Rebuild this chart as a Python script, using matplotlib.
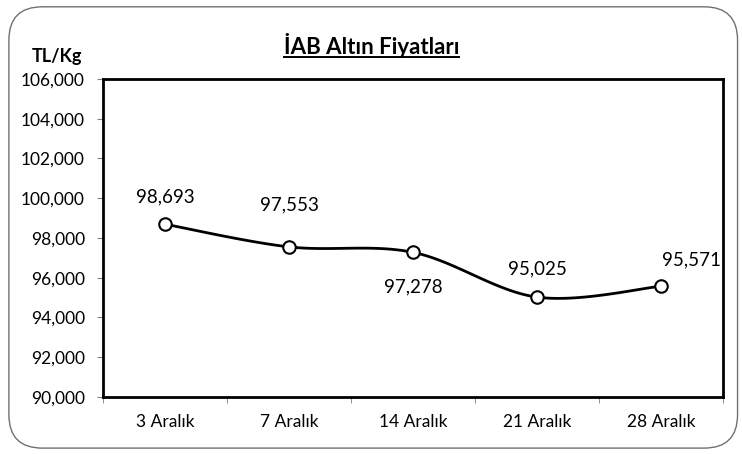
import matplotlib.pyplot as plt
from matplotlib.patches import FancyBboxPatch
import numpy as np

categories = ["3 Aralık", "7 Aralık", "14 Aralık", "21 Aralık", "28 Aralık"]
prices = [98693, 97553, 97278, 95025, 95571]

plt.rcParams["font.family"] = ["Lato", "DejaVu Sans"]


def smooth(xs, ys, n=30):
    # Catmull-Rom curve through the points, like Excel's smoothed line
    xs = np.asarray(xs, float)
    ys = np.asarray(ys, float)
    px = np.concatenate([[xs[0]], xs, [xs[-1]]])
    py = np.concatenate([[ys[0]], ys, [ys[-1]]])
    outx, outy = [], []
    t = np.linspace(0, 1, n)
    for i in range(1, len(px) - 2):
        p0, p1, p2, p3 = [np.array([px[j], py[j]]) for j in (i - 1, i, i + 1, i + 2)]
        c1 = p1 + (p2 - p0) / 6
        c2 = p2 - (p3 - p1) / 6
        pts = ((1 - t)[:, None] ** 3 * p1 + 3 * ((1 - t) ** 2 * t)[:, None] * c1
               + 3 * ((1 - t) * t ** 2)[:, None] * c2 + (t ** 3)[:, None] * p2)
        outx.extend(pts[:, 0])
        outy.extend(pts[:, 1])
    return outx, outy


fig = plt.figure(figsize=(7.42, 4.54), dpi=100)
frame = FancyBboxPatch((0.012, 0.013), 0.982, 0.972, boxstyle="round,pad=0,rounding_size=0.045",
                       transform=fig.transFigure, facecolor="white", edgecolor="#707070",
                       linewidth=1.0, mutation_aspect=742 / 454, zorder=-5)
fig.patches.append(frame)

ax = fig.add_axes([0.1388, 0.1256, 0.8356, 0.7004])
ax.set_zorder(2)
ax.patch.set_facecolor("white")
x = np.arange(len(categories))
sx, sy = smooth(x, prices)
ax.plot(sx, sy, color="black", linewidth=2, zorder=2)
ax.plot(x, prices, linestyle="none", marker="o", markersize=9, markerfacecolor="white",
        markeredgecolor="black", markeredgewidth=1.5, zorder=3)

offsets = [(0, 20), (0, 30), (0, -25), (0, 20), (22, 19)]
for xi, v, (dx, dy) in zip(x, prices, offsets):
    ax.annotate(f"{v:,}", (xi, v), xytext=(dx, dy), textcoords="offset points",
                ha="center", va="center", fontsize=13.5)

ax.set_xlim(-0.5, len(categories) - 0.5)
ax.set_ylim(90000, 106000)
ax.set_yticks(np.arange(90000, 106001, 2000))
ax.set_yticklabels([f"{v:,}" for v in range(90000, 106001, 2000)], fontsize=12.5)
ax.set_xticks(x)
ax.set_xticklabels(categories, fontsize=12.5)
ax.set_xticks(np.arange(-0.5, len(categories), 1), minor=True)
ax.tick_params(axis="x", which="major", length=0, pad=12)
ax.tick_params(axis="x", which="minor", length=4, color="#808080")
ax.tick_params(axis="y", length=4, color="#808080", pad=9)
for s in ax.spines.values():
    s.set_linewidth(2)
    s.set_color("black")

title = fig.text(0.501, 0.9, "İAB Altın Fiyatları", ha="center", va="center", fontsize=16,
                 fontweight="bold")
fig.text(0.077, 0.875, "TL/Kg", ha="center", va="center", fontsize=13, fontweight="bold")

# underline for the title
fig.canvas.draw()
bb = title.get_window_extent()
fig.add_artist(plt.Line2D([bb.x0 / 742, bb.x1 / 742], [bb.y0 / 454 + 0.001] * 2,
                          transform=fig.transFigure, color="black", linewidth=1.4))

fig.savefig("out.png", dpi=100)
